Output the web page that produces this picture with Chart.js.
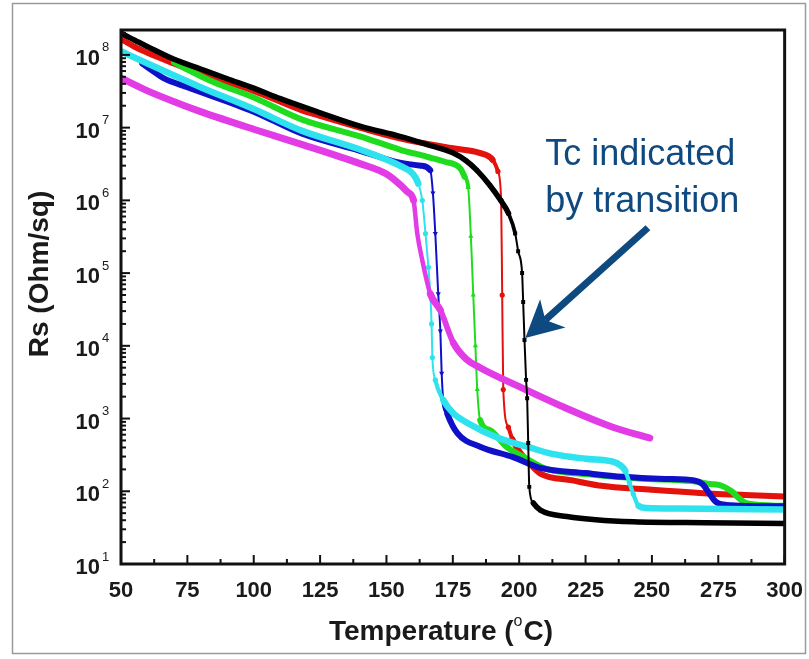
<!DOCTYPE html>
<html>
<head>
<meta charset="utf-8">
<title>Rs vs Temperature</title>
<script src="https://cdn.jsdelivr.net/npm/chart.js@4.4.1/dist/chart.umd.min.js"></script>
<style>
  html, body { margin: 0; padding: 0; background: #fff; }
  #wrap { width: 809px; height: 659px; position: relative; }
</style>
</head>
<body>
<div id="wrap"><canvas id="rsChart"></canvas></div>
<script>
// axis ticks
const xTicks = [50, 75, 100, 125, 150, 175, 200, 225, 250, 275, 300];
const yExponents = [1, 2, 3, 4, 5, 6, 7, 8];

// sheet resistance (Ohm/sq) against temperature (°C), one pair per sample
const blackT  = [50, 55, 60, 70, 80, 90, 100, 110, 125, 140, 155, 165, 175, 180, 184, 189, 193, 196, 198.5, 199.6, 201.1, 201.5, 202.0, 202.6, 203.0, 203.4, 203.8, 205.3, 208, 218, 243, 270, 300];
const blackRs = [2.0e8, 1.6e8, 1.3e8, 8.7e7, 6.4e7, 4.7e7, 3.5e7, 2.5e7, 1.6e7, 1.05e7, 7.6e6, 5.9e6, 4.5e6, 3.5e6, 2.6e6, 1.6e6, 1.0e6, 6.6e5, 3.5e5, 2.0e5, 1.0e5, 4.0e4, 1.2e4, 3.4e3, 1.9e3, 460, 115, 69, 55, 45, 38, 37, 36];

const redT  = [50, 55, 60, 70, 80, 90, 100, 118, 125, 140, 155, 165, 175, 185, 190, 192, 193.2, 193.6, 194, 195.9, 197.4, 200, 204, 208, 220, 230, 250, 268, 285, 300];
const redRs = [1.66e8, 1.3e8, 1.07e8, 7.6e7, 5.5e7, 4.2e7, 3.2e7, 1.74e7, 1.45e7, 1.0e7, 7.1e6, 6.0e6, 5.2e6, 4.5e6, 3.6e6, 2.5e6, 1.0e6, 5.0e4, 2.5e3, 760, 520, 355, 240, 175, 141, 120, 105, 95, 89, 85];

const greenT  = [70, 75, 85, 100, 118, 140, 155, 165, 172, 177.8, 179.5, 180.8, 181.8, 182.7, 183.5, 184.2, 185.3, 189, 195.5, 201.5, 210, 225, 245, 265, 272, 276, 280, 283, 286, 300];
const greenRs = [7.9e7, 6.3e7, 4.2e7, 2.6e7, 1.3e7, 7.6e6, 5.0e6, 4.0e6, 3.4e6, 2.75e6, 2.1e6, 1.5e6, 3.2e5, 5.0e4, 1.0e4, 2.5e3, 950, 690, 400, 300, 205, 172, 150, 138, 126, 120, 100, 79, 68, 63];

const blueT  = [58, 62, 66, 75, 100, 118, 140, 155, 163, 166.5, 167.5, 168.4, 169.5, 170.3, 170.8, 171.4, 172.9, 176.7, 185.3, 197.7, 208, 225, 239, 255, 266, 269, 271.5, 274, 278, 300];
const blueRs = [7.6e7, 6.0e7, 4.8e7, 3.6e7, 1.66e7, 8.3e6, 4.8e6, 3.3e6, 3.0e6, 2.6e6, 1.26e6, 3.5e5, 5.2e4, 1.6e4, 4.2e3, 1.8e3, 1.17e3, 630, 410, 295, 210, 178, 158, 148, 141, 126, 95, 72, 65, 62];

const cyanT  = [50, 60, 70, 80, 100, 118, 140, 155, 160, 162, 163.5, 164.7, 165.8, 166.5, 167, 167.3, 168.4, 171.4, 175, 180.5, 191.7, 204, 212, 225, 235, 238, 240, 241.5, 243, 245, 248, 260, 300];
const cyanRs = [1.12e8, 7.6e7, 5.2e7, 3.6e7, 1.8e7, 9.1e6, 5.0e6, 3.0e6, 2.3e6, 1.7e6, 1.0e6, 3.5e5, 1.2e5, 5.2e4, 2.0e4, 6.9e3, 3.4e3, 1.8e3, 1.2e3, 870, 550, 400, 330, 280, 257, 229, 190, 132, 91, 63, 59, 58, 56];

const magentaT  = [50, 60, 71, 80, 100, 118, 140, 150, 155, 158, 160.2, 161.6, 163.5, 166.5, 170.3, 175.2, 180, 185.3, 200.4, 216.5, 235.3, 249.2];
const magentaRs = [4.8e7, 3.2e7, 2.2e7, 1.66e7, 9.5e6, 5.9e6, 3.2e6, 2.3e6, 1.66e6, 1.3e6, 1.0e6, 3.5e5, 1.5e5, 5.2e4, 3.1e4, 1.1e4, 6.6e3, 5.0e3, 2.7e3, 1.45e3, 760, 540];

// annotation anchor points (data coordinates)
const noteLines = ['Tc indicated', 'by transition'];
const noteAt = { x: 209.8, y: [3.06e6, 6.9e5] };
const arrowFrom = { x: 248.5, y: 4.2e5 };
const arrowTo = { x: 202.3, y: 1.28e4 };

const FONT = "'Liberation Sans', Arial, sans-serif";
const NOTE_BLUE = '#0e4a80';

const toPoints = (ts, rs) => ts.map((t, i) => ({ x: t, y: rs[i] }));

// thick bands where the data is dense, thin lines through the fast transitions
const segWidth = (thick, thin) => ctx => {
    const dx = Math.abs(ctx.p1.x - ctx.p0.x);
    const dy = Math.abs(ctx.p1.y - ctx.p0.y);
    const s = dy / (dx + 0.01);
    if (s > 4) return thin;
    if (s > 2) return (thick + thin) / 2;
    return thick;
};

const makeSet = (label, ts, rs, color, style, opts = {}) => ({
    label,
    data: toPoints(ts, rs),
    borderColor: color,
    backgroundColor: color,
    pointBackgroundColor: color,
    pointBorderWidth: 0,
    pointRadius: opts.radius || 2.6,
    pointStyle: style,
    pointRotation: opts.rotation || 0,
    borderCapStyle: 'round',
    borderJoinStyle: 'round',
    cubicInterpolationMode: 'monotone',
    segment: { borderWidth: segWidth(opts.thick || 6, opts.thin || 2) }
});

// draws the boxed frame, inward ticks, decade labels, titles and the note arrow
const frameAndNotes = {
    id: 'frameAndNotes',
    beforeDraw(chart) {
        const { ctx } = chart;
        ctx.save();
        ctx.strokeStyle = '#9a9a9a';
        ctx.lineWidth = 1.5;
        ctx.strokeRect(12.5, 3.5, 793, 650);
        ctx.restore();
    },
    afterDatasetsDraw(chart) {
        const { ctx, chartArea: a, scales: { x, y } } = chart;
        ctx.save();
        ctx.strokeStyle = '#111';
        ctx.lineCap = 'butt';

        // x ticks (major + halfway minor), pointing up into the plot
        ctx.lineWidth = 2;
        xTicks.forEach((t, i) => {
            const px = x.getPixelForValue(t);
            ctx.beginPath(); ctx.moveTo(px, a.bottom); ctx.lineTo(px, a.bottom - 9); ctx.stroke();
            if (i < xTicks.length - 1) {
                const pm = x.getPixelForValue((t + xTicks[i + 1]) / 2);
                ctx.beginPath(); ctx.moveTo(pm, a.bottom); ctx.lineTo(pm, a.bottom - 5); ctx.stroke();
            }
        });

        // y ticks: decades long, 2..9 short
        yExponents.forEach(k => {
            const py = y.getPixelForValue(Math.pow(10, k));
            ctx.beginPath(); ctx.moveTo(a.left, py); ctx.lineTo(a.left + 9, py); ctx.stroke();
            for (let m = 2; m <= 9; m++) {
                const v = m * Math.pow(10, k);
                if (v > y.max) break;
                const pm = y.getPixelForValue(v);
                ctx.beginPath(); ctx.moveTo(a.left, pm); ctx.lineTo(a.left + 5, pm); ctx.stroke();
            }
        });

        // frame
        ctx.lineWidth = 3;
        ctx.strokeRect(a.left, a.top, a.right - a.left, a.bottom - a.top);

        // decade labels 10^k
        ctx.fillStyle = '#1a1a1a';
        yExponents.forEach(k => {
            const py = y.getPixelForValue(Math.pow(10, k));
            ctx.font = 'bold 22px ' + FONT;
            ctx.textAlign = 'right';
            ctx.textBaseline = 'middle';
            ctx.fillText('10', a.left - 21, py + 4);
            ctx.font = '13px ' + FONT;
            ctx.textAlign = 'left';
            ctx.fillText(String(k), a.left - 19, py - 7);
        });

        // axis titles
        ctx.font = 'bold 28px ' + FONT;
        ctx.textAlign = 'center';
        ctx.textBaseline = 'middle';
        ctx.save();
        ctx.translate(40, 274);
        ctx.rotate(-Math.PI / 2);
        ctx.fillText('Rs (Ohm/sq)', 0, 0);
        ctx.restore();

        const big = 'bold 28px ' + FONT, small = '16px ' + FONT;
        const tLeft = 'Temperature (';
        const tRight = 'C)';
        ctx.font = big;
        const wL = ctx.measureText(tLeft).width;
        const wR = ctx.measureText(tRight).width;
        ctx.font = small;
        const wO = ctx.measureText('o').width + 1;
        let tx = 441 - (wL + wO + wR) / 2;
        ctx.textAlign = 'left';
        ctx.font = big;
        ctx.fillText(tLeft, tx, 632);
        ctx.font = small;
        ctx.fillText('o', tx + wL, 622);
        ctx.font = big;
        ctx.fillText(tRight, tx + wL + wO, 632);

        // note text
        ctx.fillStyle = NOTE_BLUE;
        ctx.font = '36px ' + FONT;
        ctx.textAlign = 'left';
        ctx.textBaseline = 'alphabetic';
        noteLines.forEach((line, i) => {
            ctx.fillText(line, x.getPixelForValue(noteAt.x), y.getPixelForValue(noteAt.y[i]));
        });

        // note arrow
        const x0 = x.getPixelForValue(arrowFrom.x), y0 = y.getPixelForValue(arrowFrom.y);
        const x1 = x.getPixelForValue(arrowTo.x), y1 = y.getPixelForValue(arrowTo.y);
        const len = Math.hypot(x0 - x1, y0 - y1);
        const ux = (x0 - x1) / len, uy = (y0 - y1) / len;
        const nx = -uy, ny = ux;
        const headLen = 37, headHalf = 19, notch = 27;
        ctx.strokeStyle = NOTE_BLUE;
        ctx.lineWidth = 7;
        ctx.beginPath();
        ctx.moveTo(x0, y0);
        ctx.lineTo(x1 + ux * notch, y1 + uy * notch);
        ctx.stroke();
        ctx.beginPath();
        ctx.moveTo(x1, y1);
        ctx.lineTo(x1 + ux * headLen + nx * headHalf, y1 + uy * headLen + ny * headHalf);
        ctx.lineTo(x1 + ux * notch, y1 + uy * notch);
        ctx.lineTo(x1 + ux * headLen - nx * headHalf, y1 + uy * headLen - ny * headHalf);
        ctx.closePath();
        ctx.fill();

        ctx.restore();
    }
};

document.addEventListener('DOMContentLoaded', () => {
    const canvas = document.getElementById('rsChart');

    new Chart(canvas, {
        type: 'line',
        data: {
            // first dataset is drawn on top
            datasets: [
                makeSet('Sample 1', blackT, blackRs, '#000000', 'rect', { radius: 2.8, thick: 5.5 }),
                makeSet('Sample 6', magentaT, magentaRs, '#e23ce6', 'triangle', { thick: 7, thin: 4.5 }),
                makeSet('Sample 5', cyanT, cyanRs, '#2fe3ee', 'circle', { thick: 6.5 }),
                makeSet('Sample 4', blueT, blueRs, '#1010c8', 'triangle', { rotation: 180, radius: 3 }),
                makeSet('Sample 3', greenT, greenRs, '#1fdc1f', 'triangle', { radius: 3 }),
                makeSet('Sample 2', redT, redRs, '#e3120c', 'circle')
            ]
        },
        options: {
            responsive: true,
            maintainAspectRatio: false,
            animation: false,
            layout: { padding: { left: 0, top: 30, right: 24, bottom: 0 } },
            plugins: {
                legend: { display: false },
                tooltip: { enabled: false }
            },
            scales: {
                x: {
                    type: 'linear',
                    min: 50,
                    max: 300,
                    grid: { display: false },
                    border: { display: false },
                    afterBuildTicks: scale => { scale.ticks = xTicks.map(v => ({ value: v })); },
                    afterFit: scale => { scale.height = 95; },
                    ticks: {
                        color: '#1a1a1a',
                        padding: 6,
                        maxRotation: 0,
                        font: { family: FONT, size: 22, weight: 'bold' }
                    }
                },
                y: {
                    type: 'logarithmic',
                    min: 10,
                    max: 2.2e8,
                    grid: { display: false },
                    border: { display: false },
                    ticks: { display: false },
                    afterFit: scale => { scale.width = 121; }
                }
            }
        },
        plugins: [frameAndNotes]
    });
});
</script>
</body>
</html>
